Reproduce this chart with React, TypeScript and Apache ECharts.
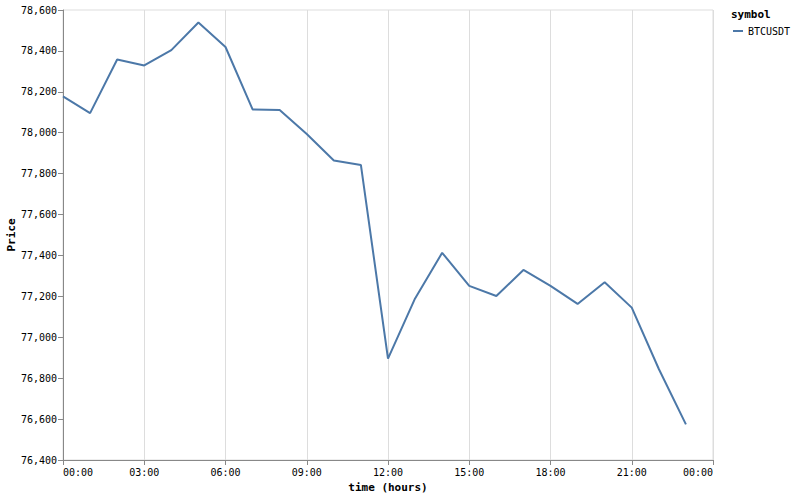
import * as echarts from "echarts";
import { useEffect, useRef } from "react";

// hourly close, BTCUSDT
const hours = [0, 1, 2, 3, 4, 5, 6, 7, 8, 9, 10, 11, 12, 13, 14, 15, 16, 17, 18, 19, 20, 21, 22, 23];
const prices = [
  78178, 78096, 78358, 78329, 78404, 78539, 78419, 78114, 78111, 77994, 77864, 77842,
  76896, 77190, 77413, 77251, 77202, 77329, 77251, 77163, 77269, 77145, 76845, 76574,
];
const seriesName = "BTCUSDT";
const legendTitle = "symbol";
const xTitle = "time (hours)";
const yTitle = "Price";

const MONO = "'DejaVu Sans Mono', monospace";

export default function App() {
  const chartRef = useRef<HTMLDivElement>(null);

  useEffect(() => {
    if (!chartRef.current) return;
    const chart = echarts.init(chartRef.current, null, { renderer: "svg" });

    chart.setOption({
      animation: false,
      grid: {
        left: 63,
        top: 10,
        width: 650,
        height: 450,
        show: true,
        borderColor: "#ddd",
        borderWidth: 1,
        containLabel: false,
        outerBoundsMode: "none",
      },
      legend: {
        left: 733,
        top: 26,
        padding: 0,
        orient: "vertical",
        icon: "rect",
        itemWidth: 10,
        itemHeight: 2,
        itemGap: 4,
        textStyle: { fontFamily: MONO, fontSize: 10, color: "#000" },
        data: [seriesName],
      },
      graphic: [
        {
          type: "text",
          left: 731,
          top: 9,
          style: { text: legendTitle, font: `bold 11px ${MONO}`, fill: "#000" },
        },
      ],
      xAxis: {
        type: "value",
        min: 0,
        max: 24,
        interval: 3,
        name: xTitle,
        nameLocation: "middle",
        nameGap: 22,
        nameMoveOverlap: false,
        nameTextStyle: { fontFamily: MONO, fontSize: 11, fontWeight: "bold", color: "#000" },
        axisLine: { lineStyle: { color: "#888" } },
        axisTick: { show: true, length: 5, lineStyle: { color: "#888" } },
        axisLabel: {
          fontFamily: MONO,
          fontSize: 10,
          color: "#000",
          margin: 7,
          alignMinLabel: "left",
          alignMaxLabel: "right",
          formatter: (v: number) => String(v % 24).padStart(2, "0") + ":00",
        },
        splitLine: { show: true, lineStyle: { color: "#ddd" } },
      },
      yAxis: {
        type: "value",
        min: 76400,
        max: 78600,
        interval: 200,
        name: yTitle,
        nameLocation: "middle",
        nameGap: 46,
        nameMoveOverlap: false,
        nameTextStyle: { fontFamily: MONO, fontSize: 11, fontWeight: "bold", color: "#000" },
        axisLine: { show: true, lineStyle: { color: "#888" } },
        axisTick: { show: true, length: 5, lineStyle: { color: "#888" } },
        axisLabel: {
          fontFamily: MONO,
          fontSize: 10,
          color: "#000",
          margin: 6,
          formatter: (v: number) => v.toLocaleString("en-US"),
        },
        splitLine: { show: false },
      },
      series: [
        {
          name: seriesName,
          type: "line",
          data: hours.map((h, i) => [h, prices[i]]),
          symbol: "none",
          color: "#4c78a8",
          lineStyle: { color: "#4c78a8", width: 2 },
        },
      ],
    });

    return () => {
      chart.dispose();
    };
  }, []);

  return (
    <div
      ref={chartRef}
      style={{ position: "fixed", left: 0, top: 0, width: 794, height: 497, background: "#fff" }}
    />
  );
}
